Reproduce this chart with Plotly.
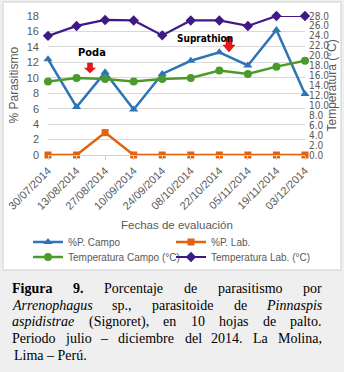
import plotly.graph_objects as go

# ---------------- data ----------------
dates = ["30/07/2014", "13/08/2014", "27/08/2014", "10/09/2014", "24/09/2014",
         "08/10/2014", "22/10/2014", "05/11/2014", "19/11/2014", "03/12/2014"]
p_campo = [12.4, 6.2, 10.7, 5.9, 10.5, 12.2, 13.3, 11.6, 16.2, 7.9]
p_lab = [0, 0, 2.9, 0, 0, 0, 0, 0, 0, 0]
temp_campo = [14.8, 15.5, 15.3, 14.8, 15.3, 15.5, 17.0, 16.3, 17.8, 19.0]
temp_lab = [24.0, 26.0, 27.2, 27.1, 24.1, 27.1, 27.1, 26.0, 28.0, 28.0]

left_ticks = list(range(0, 19, 2))
right_ticks = list(range(0, 29, 2))

# ---------------- layout helpers ----------------
W, H = 344, 372
PL, PR, PT, PB = 48, 305, 16, 155


def px(x):
    return (x - PL) / (PR - PL)


def py(y):
    return (PB - y) / (PB - PT)


GRAY = "#595959"
SANS = "Liberation Sans, Arial, sans-serif"
NARROW = "Liberation Sans Narrow, DejaVu Sans Condensed, Arial Narrow, sans-serif"
SERIF = "Liberation Serif, Times New Roman, serif"

fig = go.Figure()
fig.add_trace(go.Scatter(x=dates, y=p_campo, name="%P. Campo", mode="lines+markers",
                         line=dict(color="#2E75B6", width=2.5),
                         marker=dict(symbol="triangle-up", size=8, color="#2E75B6"),
                         cliponaxis=False, legend="legend"))
fig.add_trace(go.Scatter(x=dates, y=p_lab, name="%P. Lab.", mode="lines+markers",
                         line=dict(color="#E2620D", width=2.5),
                         marker=dict(symbol="square", size=7, color="#E2620D"),
                         cliponaxis=False, legend="legend"))
fig.add_trace(go.Scatter(x=dates, y=temp_campo, name="Temperatura Campo (°C)", mode="lines+markers",
                         line=dict(color="#4C9A2A", width=2.5),
                         marker=dict(symbol="circle", size=8, color="#4C9A2A"),
                         yaxis="y2", cliponaxis=False, legend="legend2"))
fig.add_trace(go.Scatter(x=dates, y=temp_lab, name="Temperatura Lab. (°C)", mode="lines+markers",
                         line=dict(color="#3F1A85", width=2.2),
                         marker=dict(symbol="diamond", size=8, color="#3F1A85"),
                         yaxis="y2", cliponaxis=False, legend="legend2"))

shapes = []
# chart frame (white box with light border)
shapes.append(dict(type="rect", xref="paper", yref="paper",
                   x0=px(3), x1=px(341), y0=py(270), y1=py(2),
                   fillcolor="white", line=dict(color="#D0D0D0", width=1), layer="below"))


def block_arrow(cx, top, bottom, shaft_w, head_w, head_h):
    sy = bottom - head_h
    pts = [(cx - shaft_w / 2, top), (cx + shaft_w / 2, top), (cx + shaft_w / 2, sy),
           (cx + head_w / 2, sy), (cx, bottom), (cx - head_w / 2, sy), (cx - shaft_w / 2, sy)]
    path = "M " + " L ".join(f"{px(a):.5f},{py(b):.5f}" for a, b in pts) + " Z"
    return dict(type="path", xref="paper", yref="paper", path=path,
                fillcolor="#E8161B", line=dict(color="#C00000", width=0.5), layer="above")


shapes.append(block_arrow(90, 63, 73, 5, 11, 5))
shapes.append(block_arrow(229, 37, 52, 6, 12, 7))


def note(text, x, y, size, family, color, angle=0):
    return dict(text=text, x=px(x), y=py(y), xref="paper", yref="paper",
                xanchor="center", yanchor="middle", textangle=angle, showarrow=False,
                font=dict(family=family, size=size, color=color))


annotations = [
    note("<b>Poda</b>", 92, 52, 11, NARROW, "black"),
    note("<b>Suprathion</b>", 205, 38.5, 10, NARROW, "black"),
    note("% Parasitismo", 13, 85.5, 12, SANS, GRAY, -90),
    note("Temperatura (°C)", 331, 85.5, 12, SANS, GRAY, -90),
    note("Fechas de evaluación", 177, 225, 11.5, SANS, GRAY),
]

# ---------------- caption (justified, word by word) ----------------
TR = {' ': 250, '(': 333, ')': 333, ',': 250, '.': 250, '–': 500,
      '0': 500, '1': 500, '2': 500, '4': 500, '9': 500,
      'L': 611, 'M': 889, 'P': 556, 'S': 556, 'F': 556,
      'a': 444, 'b': 500, 'c': 444, 'd': 500, 'e': 444, 'f': 333, 'g': 500, 'h': 500,
      'i': 278, 'j': 278, 'l': 278, 'm': 778, 'n': 500, 'o': 500, 'p': 500, 'r': 333,
      's': 389, 't': 278, 'u': 500, 'ú': 500}
TI = dict(TR)
TI.update({'A': 611, 'P': 611, 'a': 500, 'r': 389, 'm': 722, 'h': 500})
TB = {'F': 611, 'i': 278, 'g': 500, 'u': 556, 'r': 444, 'a': 500, '9': 500, '.': 250}
TABLES = {"r": TR, "i": TI, "b": TB}

CAP_SIZE = 14
CAP_X0, CAP_X1 = 12, 322
caption_lines = [
    [("Figura", "b"), ("9.", "b"), ("Porcentaje", "r"), ("de", "r"), ("parasitismo", "r"), ("por", "r")],
    [("Arrenophagus", "i"), ("sp.,", "r"), ("parasitoide", "r"), ("de", "r"), ("Pinnaspis", "i")],
    [("aspidistrae", "i"), ("(Signoret),", "r"), ("en", "r"), ("10", "r"), ("hojas", "r"),
     ("de", "r"), ("palto.", "r")],
    [("Periodo", "r"), ("julio", "r"), ("–", "r"), ("diciembre", "r"), ("del", "r"),
     ("2014.", "r"), ("La", "r"), ("Molina,", "r")],
]
line_y = [288, 305, 321.5, 338, 355]


def wwidth(word, style):
    t = TABLES[style]
    return sum(t.get(c, 500) for c in word) * CAP_SIZE / 1000.0


def styled(word, style):
    if style == "b":
        return f"<b>{word}</b>"
    if style == "i":
        return f"<i>{word}</i>"
    return word


for words, yline in zip(caption_lines, line_y):
    widths = [wwidth(w, s) for w, s in words]
    gap = (CAP_X1 - CAP_X0 - sum(widths)) / (len(words) - 1)
    x = CAP_X0
    for (w, s), ww in zip(words, widths):
        annotations.append(note(styled(w, s), x + ww / 2, yline, CAP_SIZE, SERIF, "black"))
        x += ww + gap

annotations.append(dict(text="Lima – Perú.", x=px(CAP_X0), y=py(line_y[4]), xref="paper", yref="paper",
                        showarrow=False, xanchor="left", yanchor="middle",
                        font=dict(family=SERIF, size=CAP_SIZE, color="black")))

legend_common = dict(orientation="h", xanchor="left", yanchor="middle", x=px(28),
                     entrywidth=98, entrywidthmode="pixels", bgcolor="rgba(0,0,0,0)",
                     font=dict(family=SANS, size=10, color=GRAY), tracegroupgap=0,
                     itemclick=False)

fig.update_layout(
    width=W, height=H,
    margin=dict(l=PL, r=W - PR, t=PT, b=H - PB, pad=0, autoexpand=False),
    paper_bgcolor="#EFEFEF", plot_bgcolor="rgba(0,0,0,0)",
    font=dict(family=SANS, size=11, color=GRAY),
    xaxis=dict(type="category", range=[0, len(dates) - 1], showgrid=False, automargin=False,
               showline=True, linecolor="#D0D0D0", linewidth=1,
               ticks="outside", ticklen=4, tickcolor="#D0D0D0",
               tickangle=-45, tickfont=dict(family=SANS, size=11, color=GRAY)),
    yaxis=dict(range=[0, 18], tickvals=left_ticks, showgrid=True, gridcolor="#D9D9D9",
               gridwidth=1, zeroline=False, showline=False, ticks="", automargin=False,
               ticklabelstandoff=8, tickfont=dict(family=SANS, size=11, color=GRAY)),
    yaxis2=dict(range=[0, 28], tickvals=right_ticks, overlaying="y", side="right",
                showgrid=False, zeroline=False, showline=False, ticks="", tickformat=".1f",
                automargin=False,
                ticklabelstandoff=3, tickfont=dict(family=NARROW, size=10, color=GRAY)),
    legend=dict(y=py(242), **legend_common),
    legend2=dict(y=py(257), **legend_common),
    shapes=shapes,
    annotations=annotations,
    showlegend=True,
)

fig.write_html("out.html", config={"displayModeBar": False},
               post_script="document.body.style.margin='0';")
